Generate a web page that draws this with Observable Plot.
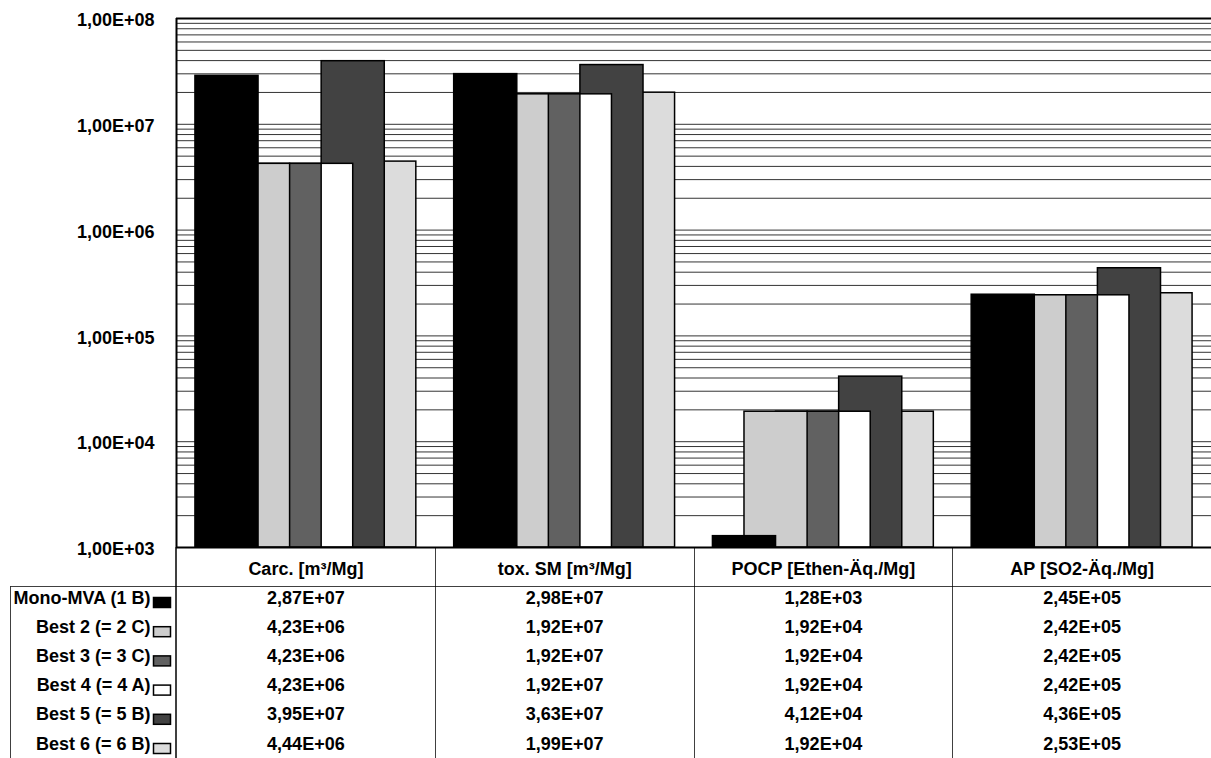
<!DOCTYPE html>
<html><head><meta charset="utf-8">
<script src="https://cdn.jsdelivr.net/npm/d3@7"></script>
<script src="https://cdn.jsdelivr.net/npm/@observablehq/plot@0.6"></script>
<style>
body{margin:0;background:#fff;}
#chart svg{display:block;}
</style></head><body><div id="chart"></div>
<script>
// ---- data ----
const categories = ["Carc. [m³/Mg]", "tox. SM [m³/Mg]", "POCP [Ethen-Äq./Mg]", "AP [SO2-Äq./Mg]"];
const series = ["Mono-MVA (1 B)", "Best 2 (= 2 C)", "Best 3 (= 3 C)", "Best 4 (= 4 A)", "Best 5 (= 5 B)", "Best 6 (= 6 B)"];
const seriesColors = ["#000000", "#cdcdcd", "#616161", "#ffffff", "#424242", "#dcdcdc"];
const carc  = [2.87e7, 4.23e6, 4.23e6, 4.23e6, 3.95e7, 4.44e6];
const toxSM = [2.98e7, 1.92e7, 1.92e7, 1.92e7, 3.63e7, 1.99e7];
const pocp  = [1.28e3, 1.92e4, 1.92e4, 1.92e4, 4.12e4, 1.92e4];
const ap    = [2.45e5, 2.42e5, 2.42e5, 2.42e5, 4.36e5, 2.53e5];
const yTicks = [1e3, 1e4, 1e5, 1e6, 1e7, 1e8];

// ---- layout ----
const W = 1211, H = 758, mTop = 18, mLeft = 176, mRight = 0, mBottom = 211;
const FONT = "'Liberation Sans Narrow','Arial Narrow','Liberation Sans',Arial,sans-serif";
const FS = 18;
const groupSpan = 8.2, groupPad = 0.6, barSpan = 2; // in slot units; bars overlap 50%
const rowStart = 56, rowStep = 29.2, headerDy = 27.5;

const valuesByCat = [carc, toxSM, pocp, ap];
const fmt = v => {
  const [m, e] = v.toExponential(2).split("e");
  return m.replace(".", ",") + "E" + e[0] + e.slice(1).padStart(2, "0");
};
const gridTicks = d3.range(3, 8).flatMap(e => d3.range(1, 10).map(k => k * 10 ** e)).concat([1e8]);

const bars = [];
valuesByCat.forEach((vals, g) => vals.forEach((v, i) => bars.push({
  g, i, value: v,
  x1: g * groupSpan + groupPad + i,
  x2: g * groupSpan + groupPad + i + barSpan
})));
bars.sort((a, b) => b.i - a.i); // first series drawn on top

const groupCenter = (d, g) => g * groupSpan + groupSpan / 2;
const textStyle = {fontFamily: FONT, fontSize: FS, fontWeight: "bold", fill: "#000"};

const rowMarks = series.map((s, r) => Plot.text(categories, {
  x: groupCenter, text: (d, g) => fmt(valuesByCat[g][r]),
  frameAnchor: "bottom", dy: rowStart + r * rowStep, ...textStyle
}));
const labelMarks = series.map((s, r) => Plot.text([s], {
  frameAnchor: "bottom-left", dx: -26, dy: rowStart + r * rowStep, textAnchor: "end", ...textStyle
}));

const chart = Plot.plot({
  width: W, height: H, marginTop: mTop, marginLeft: mLeft, marginRight: mRight, marginBottom: mBottom,
  x: {domain: [0, groupSpan * categories.length], axis: null},
  y: {type: "log", domain: [1e3, 1e8], axis: null},
  style: {fontFamily: FONT, background: "#fff"},
  marks: [
    Plot.ruleY(gridTicks, {stroke: "#000", strokeWidth: 1, strokeOpacity: 0.8}),
    Plot.rect(bars, {x1: "x1", x2: "x2", y1: () => 1e3, y2: "value",
      fill: d => seriesColors[d.i], stroke: "#000", strokeWidth: 1.5}),
    Plot.ruleY([1e3, 1e8], {stroke: "#000", strokeWidth: 2}),
    Plot.ruleX([0], {stroke: "#000", strokeWidth: 2}),
    Plot.axisY({ticks: yTicks, tickFormat: fmt, tickSize: 0, tickPadding: 22, label: null, dy: 2,
      fontSize: FS, fontWeight: "bold", fontFamily: FONT}),
    Plot.text(categories, {x: groupCenter, frameAnchor: "bottom", dy: headerDy, ...textStyle}),
    ...rowMarks,
    ...labelMarks
  ]
});
document.getElementById("chart").appendChild(chart);

// table grid lines and legend swatches, positioned with the chart's own x scale
const svg = d3.select(chart);
const xs = chart.scale("x");
const bottom = H - mBottom;
const g = svg.append("g");
const hdrY = bottom + 39;
g.append("line").attr("x1", 10.5).attr("x2", W).attr("y1", hdrY + 0.5).attr("y2", hdrY + 0.5).attr("stroke", "#000").attr("stroke-opacity", 0.75);
g.append("line").attr("x1", 10.5).attr("x2", 10.5).attr("y1", hdrY).attr("y2", H).attr("stroke", "#000").attr("stroke-opacity", 0.75);
categories.forEach((c, i) => {
  const x = Math.round(xs.apply(i * groupSpan)) + (i === 0 ? 0 : 0.5);
  g.append("line").attr("x1", x).attr("x2", x).attr("y1", bottom).attr("y2", H)
    .attr("stroke", "#000").attr("stroke-width", i === 0 ? 1.5 : 1).attr("stroke-opacity", i === 0 ? 1 : 0.75);
});
series.forEach((s, r) => {
  const y = bottom + rowStart + r * rowStep;
  g.append("rect").attr("x", mLeft - 22.5).attr("y", y - 5.5).attr("width", 17).attr("height", 10)
    .attr("fill", seriesColors[r]).attr("stroke", "#000").attr("stroke-width", 1.5);
});
</script></body></html>
